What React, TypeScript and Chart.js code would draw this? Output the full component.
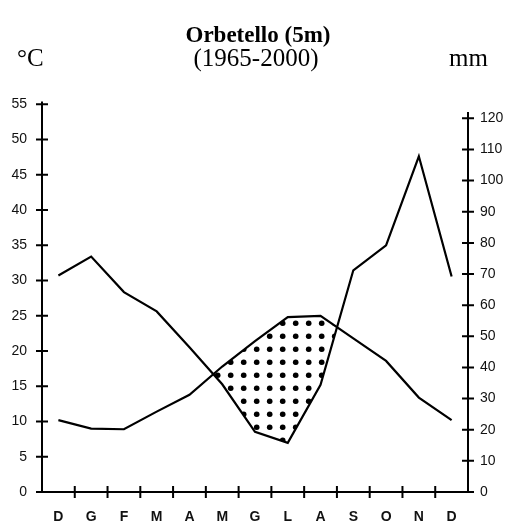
import React, { useEffect, useRef } from "react";
import { Chart, registerables } from "chart.js";

Chart.register(...registerables);

const months = ["D", "G", "F", "M", "A", "M", "G", "L", "A", "S", "O", "N", "D"];
const temperature = [10.2, 9.0, 8.9, 11.4, 13.8, 17.8, 21.4, 24.8, 25.0, 21.8, 18.6, 13.4, 10.2];
const precipitation = [69.5, 75.6, 64.2, 58.0, 46.5, 34.6, 19.3, 15.8, 34.4, 71.2, 79.2, 107.8, 69.2];
const tempMax = 55.4;
const precMax = 125.4;
const precAxisTop = 122;

const axisPlugin = {
  id: "walterAxes",
  afterDatasetsDraw(chart: any) {
    const { ctx, chartArea } = chart;
    const x = chart.scales.x;
    const y = chart.scales.y;
    const y1 = chart.scales.y1;
    const L = chartArea.left;
    const R = chartArea.right;
    const B = chartArea.bottom;
    ctx.save();
    ctx.strokeStyle = "#000";
    ctx.lineWidth = 2;
    ctx.lineCap = "butt";
    ctx.beginPath();
    ctx.moveTo(L, y.getPixelForValue(tempMax));
    ctx.lineTo(L, B);
    ctx.moveTo(L - 6, B);
    ctx.lineTo(R, B);
    ctx.moveTo(R, y1.getPixelForValue(precAxisTop));
    ctx.lineTo(R, B);
    y.ticks.forEach((t: any) => {
      const py = y.getPixelForValue(t.value);
      ctx.moveTo(L - 6, py);
      ctx.lineTo(L + 6, py);
    });
    y1.ticks.forEach((t: any) => {
      const py = y1.getPixelForValue(t.value);
      ctx.moveTo(R - 6, py);
      ctx.lineTo(R + 6, py);
    });
    for (let i = 1; i < months.length; i++) {
      const px = (x.getPixelForValue(i - 1) + x.getPixelForValue(i)) / 2;
      ctx.moveTo(px, B - 6);
      ctx.lineTo(px, B + 6);
    }
    ctx.stroke();
    ctx.restore();
  },
};

function makeDots(): CanvasPattern | string {
  const tile = document.createElement("canvas");
  const s = 12.8;
  const n = 13;
  tile.width = n;
  tile.height = n;
  const c = tile.getContext("2d");
  if (!c) return "rgba(0,0,0,0.3)";
  c.fillStyle = "#000";
  const cx = 230.7 % n;
  const cy = 323.3 % n;
  for (let dx = -1; dx <= 1; dx++) {
    for (let dy = -1; dy <= 1; dy++) {
      c.beginPath();
      c.arc(cx + dx * n, cy + dy * n, 2.8, 0, Math.PI * 2);
      c.fill();
    }
  }
  void s;
  const p = c.createPattern(tile, "repeat");
  return p || "rgba(0,0,0,0.3)";
}

export default function App() {
  const ref = useRef<HTMLCanvasElement>(null);
  useEffect(() => {
    if (!ref.current) return;
    const tickFont = { family: "'Liberation Sans', Arial, sans-serif", size: 14 };
    const chart = new Chart(ref.current, {
      type: "line",
      data: {
        labels: months,
        datasets: [
          {
            label: "Temperatura",
            data: temperature,
            yAxisID: "y",
            borderColor: "#000",
            borderWidth: 2.2,
            pointRadius: 0,
            tension: 0,
            fill: { target: 1, above: makeDots(), below: "rgba(0,0,0,0)" },
          },
          {
            label: "Precipitazioni",
            data: precipitation,
            yAxisID: "y1",
            borderColor: "#000",
            borderWidth: 2.2,
            pointRadius: 0,
            tension: 0,
            fill: false,
          },
        ],
      },
      options: {
        animation: false,
        responsive: false,
        maintainAspectRatio: false,
        layout: { padding: { top: 101.5, left: 0, right: 0, bottom: 0 } },
        plugins: {
          legend: { display: false },
          tooltip: { enabled: false },
          title: { display: false },
        },
        scales: {
          x: {
            type: "category",
            offset: true,
            grid: { display: false, drawTicks: false },
            border: { display: false },
            ticks: {
              color: "#111",
              font: { ...tickFont, size: 14, weight: "bold" },
              padding: 17,
              maxRotation: 0,
              autoSkip: false,
            },
            afterFit: (s: any) => {
              s.height = 31;
            },
          },
          y: {
            position: "left",
            min: 0,
            max: tempMax,
            grid: { display: false, drawTicks: false },
            border: { display: false },
            ticks: {
              stepSize: 5,
              includeBounds: false,
              color: "#111",
              font: tickFont,
              padding: 15,
            },
            afterFit: (s: any) => {
              s.width = 42;
            },
          },
          y1: {
            position: "right",
            min: 0,
            max: precMax,
            grid: { display: false, drawTicks: false },
            border: { display: false },
            ticks: {
              stepSize: 10,
              includeBounds: false,
              color: "#111",
              font: tickFont,
              padding: 12,
            },
            afterFit: (s: any) => {
              s.width = 42;
            },
          },
        },
      },
      plugins: [axisPlugin],
    } as any);
    return () => chart.destroy();
  }, []);

  const serif = "'Liberation Serif', 'Times New Roman', serif";
  const textStyle: React.CSSProperties = {
    position: "absolute",
    fontFamily: serif,
    fontSize: 23,
    lineHeight: "23px",
    color: "#000",
    whiteSpace: "nowrap",
    margin: 0,
  };
  return (
    <div style={{ position: "fixed", left: 0, top: 0, width: 510, height: 523, background: "#fff" }}>
      <canvas ref={ref} width={510} height={523} style={{ position: "absolute", left: 0, top: 0, width: 510, height: 523 }} />
      <div style={{ ...textStyle, left: 0, width: 516, textAlign: "center", top: 22.5, fontWeight: "bold" }}>
        Orbetello (5m)
      </div>
      <div style={{ ...textStyle, left: 0, width: 512, textAlign: "center", top: 45, fontSize: 25, lineHeight: "25px" }}>
        (1965-2000)
      </div>
      <div style={{ ...textStyle, left: 17, top: 45, fontSize: 25, lineHeight: "25px" }}>°C</div>
      <div style={{ ...textStyle, left: 449, top: 45, fontSize: 25, lineHeight: "25px" }}>mm</div>
    </div>
  );
}
